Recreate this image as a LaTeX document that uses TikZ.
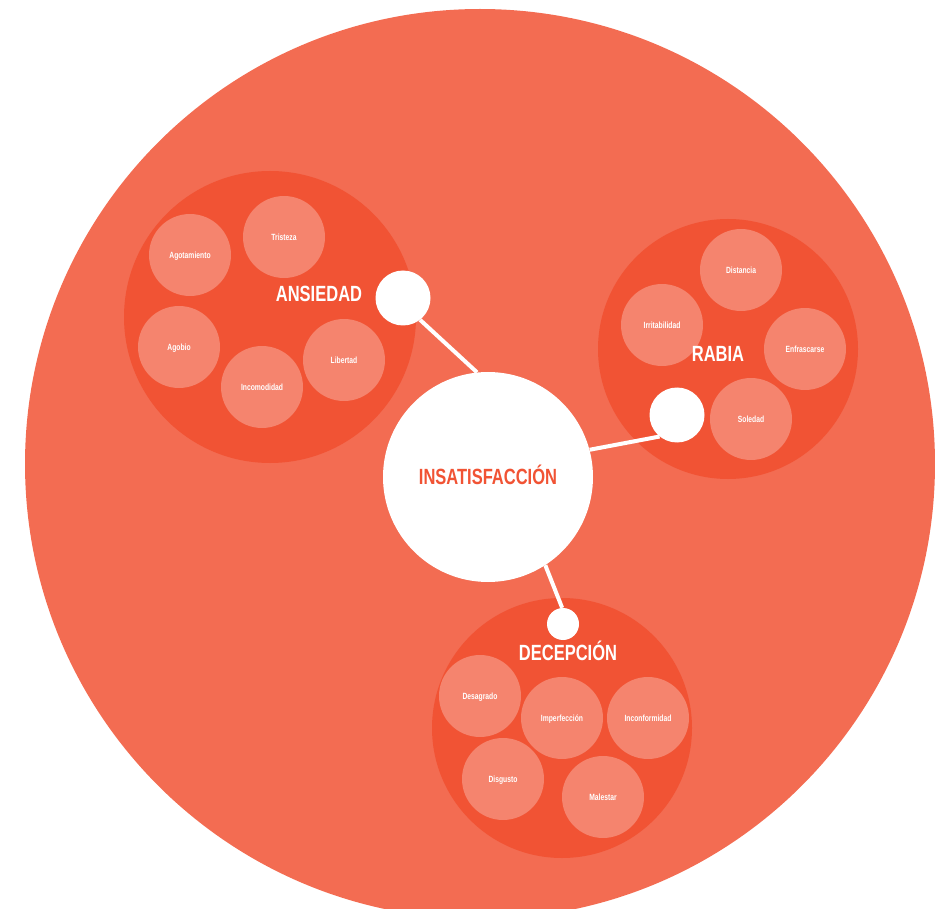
\documentclass[tikz,border=0pt]{standalone}
\usepackage{fontspec}
\newfontfamily\cond{Liberation Sans}[FakeStretch=0.75]
\definecolor{bigc}{HTML}{F36C52}
\definecolor{midc}{HTML}{F15334}
\definecolor{subc}{HTML}{F5846E}
\pgfdeclarelayer{back}
\pgfdeclarelayer{links}
\pgfsetlayers{back,links,main}
\tikzset{
  disc/.style={circle, inner sep=0pt, minimum size=#1, draw=none},
  bigdisc/.style={disc=910pt, fill=bigc},
  group/.style={disc=#1, fill=midc},
  subdisc/.style={disc=82pt, fill=subc, text=white, font=\cond\bfseries\fontsize{9}{10}\selectfont, text height=6.5pt, text depth=0pt},
  dot/.style={disc=#1, fill=white},
  core/.style={disc=210pt, fill=white, text=midc, font=\cond\bfseries\fontsize{22}{24}\selectfont, text height=15.5pt, text depth=0pt},
  title/.style={anchor=base, inner sep=0pt, text=white, font=\cond\bfseries\fontsize{22}{24}\selectfont},
  link/.style={draw=white, line width=4pt}
}
\begin{document}
\begin{tikzpicture}[x=1pt,y=-1pt]
\useasboundingbox (0,0) rectangle (935,909);
\begin{pgfonlayer}{back}
\node[bigdisc] (big) at (480,464) {};
\node[group=292pt] (ans) at (270,317) {};
\node[group=260pt] (rab) at (728,349) {};
\node[group=260pt] (dec) at (562,728) {};
\end{pgfonlayer}
% core and dots
\node[core] (core) at (488,477) {INSATISFACCIÓN};
\node[dot=55pt] (ansdot) at (403,298) {};
\node[dot=55pt] (rabdot) at (677,415) {};
\node[dot=32pt] (decdot) at (563,624) {};
% connectors
\begin{pgfonlayer}{links}
\draw[link] (ansdot.-52) -- (core.96);
\draw[link] (rabdot.231) -- (core.15.6);
\draw[link] (decdot.93) -- (core.-57.7);
\end{pgfonlayer}
% ANSIEDAD items
\node[subdisc] (tri) at (284,237) {Tristeza};
\node[subdisc] (ago) at (190,255) {Agotamiento};
\node[subdisc] (agb) at (179,347) {Agobio};
\node[subdisc] (inc) at (262,387) {Incomodidad};
\node[subdisc] (lib) at (344,360) {Libertad};
\node[title] (anst) at (319,302) {ANSIEDAD};
% RABIA items
\node[subdisc] (dis) at (741,270) {Distancia};
\node[subdisc] (irr) at (662,325) {Irritabilidad};
\node[subdisc] (enf) at (805,349) {Enfrascarse};
\node[subdisc] (sol) at (751,419) {Soledad};
\node[title] (rabt) at (718,362) {RABIA};
% DECEPCION items
\node[subdisc] (des) at (480,696) {Desagrado};
\node[subdisc] (imp) at (562,718) {Imperfección};
\node[subdisc] (inf) at (648,718) {Inconformidad};
\node[subdisc] (dsg) at (503,779) {Disgusto};
\node[subdisc] (mal) at (603,797) {Malestar};
\node[title] (dect) at (568,660) {DECEPCIÓN};
\end{tikzpicture}
\end{document}
